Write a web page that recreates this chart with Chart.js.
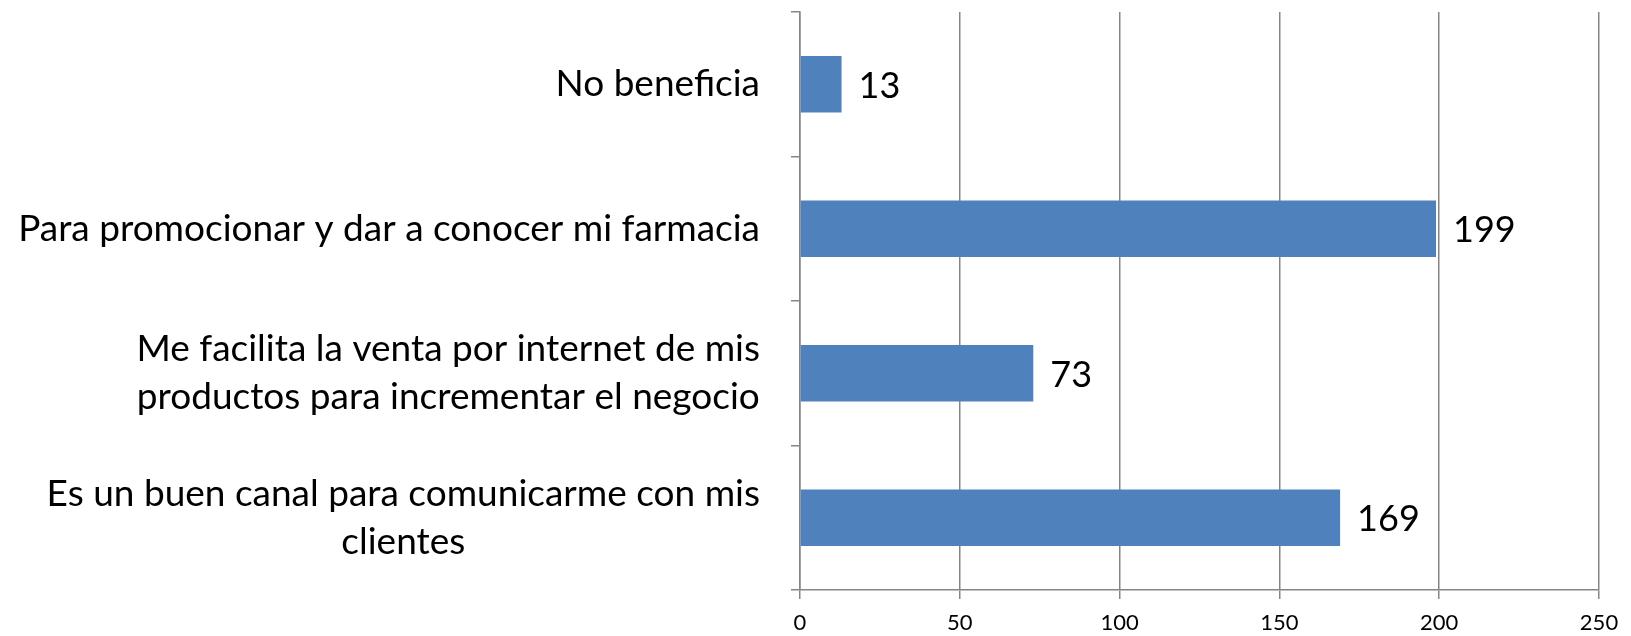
<!DOCTYPE html>
<html>
<head>
<meta charset="utf-8">
<script src="https://cdn.jsdelivr.net/npm/chart.js@4.4.1/dist/chart.umd.min.js"></script>
<style>
  html, body { margin: 0; padding: 0; background: #fff; }
  #wrap { width: 1631px; height: 636px; }
</style>
</head>
<body>
<div id="wrap"><canvas id="chart"></canvas></div>
<script>
// categories from top to bottom
const categories = [
  "No beneficia",
  "Para promocionar y dar a conocer mi farmacia",
  ["Me facilita la venta por internet de mis", "productos para incrementar el negocio"],
  ["Es un buen canal para comunicarme con mis", "clientes"]
];
const values = [13, 199, 73, 169];
const xTicks = [0, 50, 100, 150, 200, 250];

const gridColor = "#868686";
const barColor = "#4F81BD";
const fontFamily = "Lato, 'Open Sans', sans-serif";

// value labels at the end of each bar
const valueLabels = {
  id: "valueLabels",
  afterDatasetsDraw(chart) {
    const ctx = chart.ctx;
    const meta = chart.getDatasetMeta(0);
    ctx.save();
    ctx.font = "36px " + fontFamily;
    ctx.fillStyle = "#000";
    ctx.textBaseline = "middle";
    ctx.textAlign = "left";
    meta.data.forEach((bar, i) => {
      ctx.fillText(String(values[i]), bar.x + 17, bar.y + 2);
    });
    ctx.restore();
  }
};

// category labels: block right aligned, lines centred inside the block
const categoryLabels = {
  id: "categoryLabels",
  afterDraw(chart) {
    const ctx = chart.ctx;
    const y = chart.scales.y;
    const lineH = 48;
    const right = y.right - 40;
    ctx.save();
    ctx.font = "37px " + fontFamily;
    ctx.fillStyle = "#000";
    ctx.textBaseline = "middle";
    ctx.textAlign = "center";
    categories.forEach((lab, i) => {
      const lines = Array.isArray(lab) ? lab : [lab];
      const w = Math.max(...lines.map(l => ctx.measureText(l).width));
      const cx = right - w / 2;
      const cy = y.getPixelForTick(i);
      const top = cy - (lines.length - 1) * lineH / 2;
      lines.forEach((l, j) => ctx.fillText(l, cx, top + j * lineH));
    });
    ctx.restore();
  }
};

new Chart(document.getElementById("chart"), {
  type: "bar",
  data: {
    labels: categories,
    datasets: [{
      data: values,
      backgroundColor: barColor,
      borderWidth: 0,
      barPercentage: 0.39,
      categoryPercentage: 1
    }]
  },
  options: {
    indexAxis: "y",
    responsive: true,
    maintainAspectRatio: false,
    animation: false,
    layout: { padding: { top: 12, right: 32, left: 0, bottom: 0 } },
    plugins: {
      legend: { display: false },
      tooltip: { enabled: false }
    },
    scales: {
      x: {
        min: 0,
        max: 250,
        afterFit: s => { s.height = 46; s.paddingLeft = 0; s.paddingRight = 0; },
        afterBuildTicks: s => { s.ticks = xTicks.map(v => ({ value: v })); },
        grid: { color: gridColor, lineWidth: 1.5, tickLength: 9, drawTicks: true },
        border: { color: gridColor, width: 1.5 },
        ticks: { color: "#000", font: { family: fontFamily, size: 22 }, padding: 11, maxRotation: 0 }
      },
      y: {
        afterFit: s => { s.width = 800; s.paddingTop = 0; s.paddingBottom = 0; },
        grid: { color: gridColor, lineWidth: 1.5, drawOnChartArea: false, tickLength: 9, offset: true },
        border: { color: gridColor, width: 1.5 },
        ticks: { display: false, autoSkip: false }
      }
    }
  },
  plugins: [valueLabels, categoryLabels]
});
</script>
</body>
</html>
